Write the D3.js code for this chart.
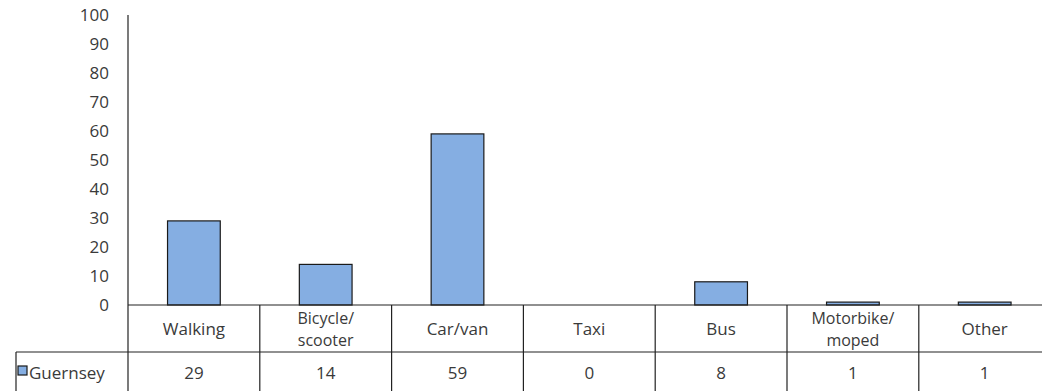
<!DOCTYPE html>
<html><head><meta charset="utf-8">
<script src="https://cdn.jsdelivr.net/npm/d3@7"></script>
<style>
html,body{margin:0;padding:0;background:#fff;}
svg{display:block;}
text{font-family:"Open Sans","Liberation Sans",sans-serif;fill:#3a3a3a;}
</style></head>
<body><svg id="c" width="1042" height="391"></svg>
<script>
const categories = ["Walking", "Bicycle/\nscooter", "Car/van", "Taxi", "Bus", "Motorbike/\nmoped", "Other"];
const seriesName = "Guernsey";
const values = [29, 14, 59, 0, 8, 1, 1];
const yTicks = [0, 10, 20, 30, 40, 50, 60, 70, 80, 90, 100];

const svg = d3.select("#c");
const left = 128, colW = 131.8, yTop = 15, yBase = 305, row1 = 352, bottom = 400, legendX = 16;

const x = d3.scaleBand().domain(categories).range([left, left + colW * categories.length]).padding(0);
const y = d3.scaleLinear().domain([0, 100]).range([yBase, yTop]);

// y-axis
const yAxis = d3.axisLeft(y).tickValues(yTicks).tickSize(0).tickPadding(19);
const ga = svg.append("g").attr("transform", `translate(${left},0)`).call(yAxis);
ga.select(".domain").remove();
ga.selectAll("text").style("font-size", "17px").style("fill", "#3a3a3a").style("font-family", "\"Open Sans\",sans-serif");
svg.append("line").attr("x1", left).attr("x2", left).attr("y1", yTop).attr("y2", bottom)
  .attr("stroke", "#222").attr("stroke-width", 1.2);

// bars
const bw = x.bandwidth() * 0.4;
svg.append("g").selectAll("rect").data(values).join("rect")
  .attr("x", (d, i) => x(categories[i]) + (x.bandwidth() - bw) / 2)
  .attr("y", d => y(d))
  .attr("width", bw)
  .attr("height", d => yBase - y(d))
  .attr("fill", "#85aee2")
  .attr("stroke", "#1a1a1a")
  .attr("stroke-width", d => d > 0 ? 1.2 : 0);

// table lines
const right = left + colW * categories.length;
svg.append("line").attr("x1", left).attr("x2", right).attr("y1", yBase).attr("y2", yBase).attr("stroke", "#222").attr("stroke-width", 1.2);
svg.append("line").attr("x1", legendX).attr("x2", right).attr("y1", row1).attr("y2", row1).attr("stroke", "#222").attr("stroke-width", 1.2);
svg.append("line").attr("x1", legendX).attr("x2", legendX).attr("y1", row1).attr("y2", bottom).attr("stroke", "#222").attr("stroke-width", 1.2);
svg.append("g").selectAll("line").data(categories.slice(1)).join("line")
  .attr("x1", d => x(d)).attr("x2", d => x(d)).attr("y1", yBase).attr("y2", bottom)
  .attr("stroke", "#222").attr("stroke-width", 1.2);

// category labels (one text element per line)
const labelLines = [];
categories.forEach(c => {
  const lines = c.split("\n");
  lines.forEach((l, i) => labelLines.push({cat: c, text: l, i, n: lines.length}));
});
svg.append("g").selectAll("text").data(labelLines).join("text")
  .attr("text-anchor", "middle")
  .attr("x", d => x(d.cat) + x.bandwidth() / 2)
  .attr("y", d => {
    const cy = (yBase + row1) / 2;
    const lh = 22;
    return cy + (d.i - (d.n - 1) / 2) * lh + 6;
  })
  .style("font-size", d => d.n > 1 ? "16px" : "17px")
  .text(d => d.text);

// values row
svg.append("g").selectAll("text").data(values).join("text")
  .attr("x", (d, i) => x(categories[i]) + x.bandwidth() / 2)
  .attr("y", 379)
  .attr("text-anchor", "middle")
  .style("font-size", "17px")
  .text(d => d);

// legend key
svg.append("rect").attr("x", 18).attr("y", 366).attr("width", 9).attr("height", 9)
  .attr("fill", "#85aee2").attr("stroke", "#1a1a1a").attr("stroke-width", 1.2);
svg.append("text").attr("x", 29).attr("y", 379).style("font-size", "17px").text(seriesName);
</script></body></html>
